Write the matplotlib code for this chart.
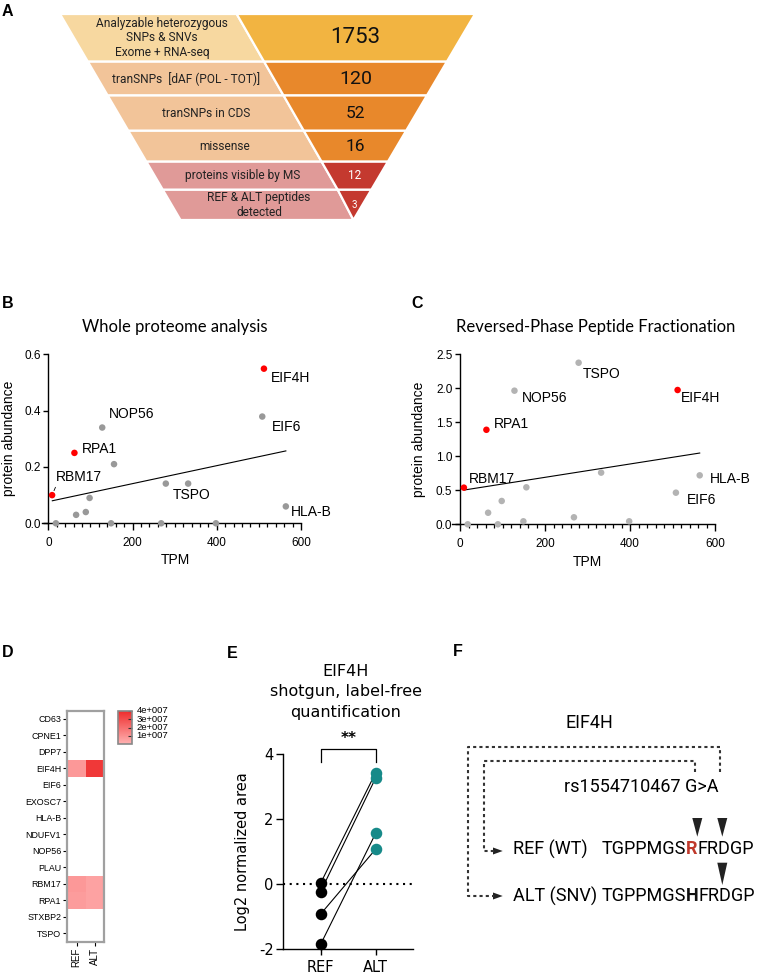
import numpy as np
import matplotlib
matplotlib.use("Agg")
import matplotlib.pyplot as plt
from matplotlib.patches import Polygon
from matplotlib.colors import LinearSegmentedColormap
from matplotlib.ticker import MultipleLocator, FuncFormatter

plt.rcParams["axes.unicode_minus"] = False

W, H = 768, 973

# ---------------- data ----------------
# Panel A funnel
funnel_labels = ["Analyzable heterozygous\nSNPs & SNVs\nExome + RNA-seq",
                 "tranSNPs  [dAF (POL - TOT)]",
                 "tranSNPs in CDS",
                 "missense",
                 "proteins visible by MS",
                 "REF & ALT peptides\ndetected"]
funnel_counts = [1753, 120, 52, 16, 12, 3]

# Panels B / C scatter
genes = ["RBM17", "", "RPA1", "", "", "", "NOP56", "", "", "", "TSPO", "", "", "EIF6", "EIF4H", "HLA-B"]
tpm = [9, 18, 62, 66, 89, 98, 128, 149, 156, 268, 279, 332, 398, 508, 512, 564]
highlight = [True, False, True, False, False, False, False, False, False, False, False, False, False, False, True, False]
abund_whole = [0.10, 0.0, 0.25, 0.03, 0.04, 0.09, 0.34, 0.0, 0.21, 0.0, 0.141, 0.141, 0.0, 0.379, 0.549, 0.06]
abund_rp = [0.539, 0.0, 1.39, 0.17, 0.0, 0.343, 1.965, 0.044, 0.544, 0.103, 2.376, 0.76, 0.044, 0.465, 1.975, 0.72]
trend_x = [9.5, 564]
trend_whole = [0.080, 0.257]
trend_rp = [0.504, 1.048]

# Panel D heatmap
hm_genes = ["CD63", "CPNE1", "DPP7", "EIF4H", "EIF6", "EXOSC7", "HLA-B", "NDUFV1",
            "NOP56", "PLAU", "RBM17", "RPA1", "STXBP2", "TSPO"]
hm_cols = ["REF", "ALT"]
nan = np.nan
hm_ref = [nan, nan, nan, 0.8e7, nan, nan, nan, nan, nan, nan, 0.8e7, 0.7e7, nan, nan]
hm_alt = [nan, nan, nan, 3.6e7, nan, nan, nan, nan, nan, nan, 0.5e7, 0.5e7, nan, nan]
cbar_ticks = [1e7, 2e7, 3e7, 4e7]

# Panel E paired
e_groups = ["REF", "ALT"]
e_ref = [0.03, -0.23, -0.92, -1.85]
e_alt = [3.43, 3.27, 1.08, 1.57]

# Panel F
f_ref_seq = ["TGPPMGS", "R", "FRDGP"]
f_alt_seq = ["TGPPMGS", "H", "FRDGP"]

# ---------------- figure ----------------
fig = plt.figure(figsize=(W / 100, H / 100), dpi=100)


def add_ax(x0, y0, x1, y1):
    return fig.add_axes([x0 / W, 1 - y1 / H, (x1 - x0) / W, (y1 - y0) / H])


ov = fig.add_axes([0, 0, 1, 1])
ov.set_xlim(0, W)
ov.set_ylim(H, 0)
ov.axis("off")

ARIAL = "Liberation Sans"
ROBOTO = "Roboto"

# panel letters
for lab, x, y in [("A", 2, 12), ("B", 2, 303), ("C", 411, 303), ("D", 2, 652.5), ("E", 227, 653), ("F", 453, 652)]:
    ov.text(x, y, lab, fontsize=11.5, fontweight="bold", family=ARIAL, ha="left", va="center")

# ---------------- Panel A ----------------
bounds = [14, 61.7, 95.5, 130.8, 161.7, 189.8, 220]
left_cols = ["#F7D8A0", "#F2C499", "#F2C499", "#F2C499", "#E09A98", "#E09A98"]
right_cols = ["#F2B441", "#E8882B", "#E8882B", "#E8882B", "#C4392F", "#C4392F"]
num_sizes = [16, 14, 12.5, 12.5, 8.5, 7]
num_cols = ["#111", "#111", "#111", "#111", "white", "white"]


def xl(y):
    return 60 + 0.585 * (y - 14)


def xd(y):
    return 236.7 + 0.575 * (y - 14)


def xr(y):
    return 475 - 0.59 * (y - 14)


for i in range(len(funnel_counts)):
    yt, yb = bounds[i], bounds[i + 1]
    dt, db = min(xd(yt), xr(yt)), min(xd(yb), xr(yb))
    ov.add_patch(Polygon([(xl(yt), yt), (dt, yt), (db, yb), (xl(yb), yb)], closed=True,
                         facecolor=left_cols[i], edgecolor="white", lw=1.6))
    ov.add_patch(Polygon([(dt, yt), (xr(yt), yt), (xr(yb), yb), (db, yb)], closed=True,
                         facecolor=right_cols[i], edgecolor="white", lw=1.6))
    ym = (yt + yb) / 2
    ov.text((xl(ym) + xd(ym)) / 2, ym, funnel_labels[i], ha="center", va="center",
            fontsize=8.6, family=ROBOTO, color="#222", linespacing=1.15)
    ov.text((xd(ym) + xr(ym)) / 2, ym, str(funnel_counts[i]), ha="center", va="center",
            fontsize=num_sizes[i], family=ROBOTO, color=num_cols[i])

# ---------------- Panels B / C ----------------


def scatter_panel(box, yvals, ymax, ystep, trend, title, title_fx, gray, offsets, xmin, yfmt):
    ax = add_ax(*box)
    ax.set_xlim(xmin, 600)
    ax.set_ylim(0, ymax)
    for s in ["top", "right"]:
        ax.spines[s].set_visible(False)
    ax.spines["left"].set_position(("data", 0))
    ax.spines["left"].set_linewidth(1.0)
    ax.spines["bottom"].set_linewidth(1.0)
    ax.xaxis.set_major_locator(MultipleLocator(200))
    ax.xaxis.set_minor_locator(MultipleLocator(20))
    ax.yaxis.set_major_locator(MultipleLocator(ystep))
    ax.yaxis.set_major_formatter(FuncFormatter(lambda v, p: yfmt.format(v)))
    ax.tick_params(axis="x", which="major", length=5, width=1, labelsize=8.5, pad=5)
    ax.tick_params(axis="x", which="minor", length=2.8, width=0.9)
    ax.tick_params(axis="y", which="major", length=3.5, width=1, labelsize=8.5, pad=2)
    for t in ax.get_xticklabels() + ax.get_yticklabels():
        t.set_family(ARIAL)
    cols = ["#FF0000" if h else gray for h in highlight]
    ax.scatter(tpm, yvals, s=22, c=cols, zorder=3, clip_on=False, linewidths=0)
    ax.plot(trend_x, trend, color="black", lw=0.8, zorder=2)
    for g, x, y in zip(genes, tpm, yvals):
        if g:
            dx, dy = offsets[g]
            kw = {}
            if g == "RBM17" and title.startswith("Whole"):
                kw = dict(arrowprops=dict(arrowstyle="-", lw=0.6, color="black",
                                          shrinkA=0, shrinkB=3.5, relpos=(0.03, 0.1)))
            ax.annotate(g, (x, y), xytext=(dx, dy), textcoords="offset points",
                        ha="left", va="center", fontsize=10, family=ARIAL, **kw)
    ax.set_xlabel("TPM", fontsize=10, family=ARIAL)
    ax.set_ylabel("protein abundance", fontsize=10, family=ARIAL)
    x0, y0, x1, y1 = box
    ax.xaxis.label.set_va("center")
    ax.yaxis.label.set_va("center")
    ax.xaxis.set_label_coords(title_fx[1], -(title_fx[3] - y1) / (y1 - y0))
    ax.yaxis.set_label_coords((title_fx[2] - x0) / (x1 - x0), 0.5)
    ax.text(title_fx[0], 1 + (y0 - 327) / (y1 - y0), title, transform=ax.transAxes,
            ha="center", va="center", fontsize=12, family="Lato")
    return ax


offB = {"EIF4H": (5.3, -6.7), "EIF6": (7, -7.2), "NOP56": (4.8, 9.4), "RPA1": (5.3, 2.7),
        "RBM17": (2.7, 12.7), "TSPO": (4.8, -8.1), "HLA-B": (3.6, -3.9)}
offC = {"TSPO": (2.9, -8.4), "NOP56": (5.5, -5.5), "EIF4H": (2.4, -6), "RPA1": (5.3, 3.9),
        "RBM17": (3.3, 6), "HLA-B": (7.2, -2.7), "EIF6": (7.7, -5.3)}

boxB = (42, 354.3, 301, 523.3)
scatter_panel(boxB, abund_whole, 0.6, 0.2, trend_whole, "Whole proteome analysis",
              ((175 - 42) / 259, (175 - 42) / 259, 9, 560), "#999999", offB, -15, "{:.1f}")
boxC = (452, 354.3, 715, 524.3)
scatter_panel(boxC, abund_rp, 2.5, 0.5, trend_rp, "Reversed-Phase Peptide Fractionation",
              ((596 - 452) / 263, (587 - 452) / 263, 419, 561.7), "#B3B3B3", offC, -19, "{:.1f}")

# ---------------- Panel D ----------------
cmap = LinearSegmentedColormap.from_list("pinkred", ["#FFB3B3", "#EE2B2B"])
axD = add_ax(67.3, 710.7, 104.3, 941.7)
mat = np.array([hm_ref, hm_alt]).T
im = axD.pcolormesh(np.ma.masked_invalid(mat), cmap=cmap, vmin=0, vmax=4e7)
axD.set_xlim(0, 2)
axD.set_ylim(len(hm_genes), 0)
axD.set_xticks(np.arange(2) + 0.5, hm_cols, rotation=90)
axD.set_yticks(np.arange(len(hm_genes)) + 0.5, hm_genes)
axD.tick_params(axis="y", length=3, width=0.8, labelsize=6.4, pad=1.5)
axD.tick_params(axis="x", length=3, width=0.8, labelsize=7, pad=1.5)
for t in axD.get_xticklabels() + axD.get_yticklabels():
    t.set_family(ARIAL)
for s in axD.spines.values():
    s.set_edgecolor("#A0A0A0")
    s.set_linewidth(1.6)

cax = add_ax(117.7, 710.7, 132.3, 744.3)
cb = fig.colorbar(im, cax=cax)
cb.set_ticks(cbar_ticks)
cb.ax.yaxis.set_major_formatter(FuncFormatter(lambda v, p: f"{int(round(v / 1e7))}e+007"))
cb.outline.set_edgecolor("#888888")
cb.outline.set_linewidth(1.2)
cax.tick_params(direction="in", length=3, width=0.8, color="#333", labelsize=6.8, pad=3)
for t in cax.get_yticklabels():
    t.set_family(ARIAL)
    t.set_va("center")

# ---------------- Panel E ----------------
boxE = (283.3, 754, 413, 949.3)
axE = add_ax(*boxE)
axE.set_xlim(-0.676, 1.675)
axE.set_ylim(-2, 4)
for s in ["top", "right"]:
    axE.spines[s].set_visible(False)
axE.spines["left"].set_linewidth(1.0)
axE.spines["bottom"].set_linewidth(1.0)
axE.set_yticks([-2, 0, 2, 4])
axE.set_xticks([0, 1], e_groups)
axE.tick_params(axis="y", length=5, width=1, labelsize=10.5, pad=2)
axE.tick_params(axis="x", length=4.5, width=1, labelsize=10.5, pad=3)
axE.axhline(0, color="black", lw=1.5, ls=(0, (1, 2.2)), zorder=1)
for r, a in zip(e_ref, e_alt):
    axE.plot([0, 1], [r, a], color="black", lw=0.8, zorder=2)
axE.plot([0] * len(e_ref), e_ref, "o", color="black", ms=7.3, zorder=3, clip_on=False)
axE.plot([1] * len(e_alt), e_alt, "o", color="#178A89", ms=7.3, zorder=3, clip_on=False)
axE.plot([0, 0, 1, 1], [3.755, 4.165, 4.165, 3.755], color="black", lw=0.9, clip_on=False)
axE.text(0.5, 4.47, "**", ha="center", va="center", fontsize=11, fontweight="bold")
axE.set_ylabel("Log2 normalized area", fontsize=10.5)
axE.yaxis.label.set_va("center")
axE.yaxis.set_label_coords((243 - 283.3) / 129.7, 0.5)
axE.text((346 - 283.3) / 129.7, (949.3 - 691.7) / 195.3, "EIF4H\nshotgun, label-free\nquantification",
         transform=axE.transAxes, ha="center", va="center", fontsize=11.5, linespacing=1.45)

# ---------------- Panel F ----------------
ov.text(589, 722.7, "EIF4H", ha="center", va="center", fontsize=13, family=ROBOTO)
dash = dict(color="#333333", lw=1.5, ls=(0, (1.5, 1.5)))
ov.plot([720, 720, 468.3, 468.3, 494], [771.7, 747.3, 747.3, 896, 896], **dash)
ov.plot([695, 695, 484.3, 484.3, 494], [771.7, 760.7, 760.7, 851, 851], **dash)
for yy in (851, 896):
    ov.add_patch(Polygon([(493, yy - 3.5), (502.7, yy), (493, yy + 3.5)], closed=True,
                         facecolor="#222", edgecolor="none"))
ov.text(564.3, 786.7, "rs1554710467 G>A", ha="left", va="center", fontsize=13, family=ROBOTO)
ov.text(512.7, 849.3, "REF (WT)", ha="left", va="center", fontsize=13, family=ROBOTO)
ov.text(512.7, 896, "ALT (SNV)", ha="left", va="center", fontsize=13, family=ROBOTO)


def seq_row(y, parts, mid_color):
    t1 = ov.text(601.7, y, parts[0], ha="left", va="center", fontsize=13, family=ROBOTO)
    t2 = ov.annotate(parts[1], xy=(1, 0.5), xycoords=t1, ha="left", va="center", fontsize=13,
                     family=ROBOTO, fontweight="bold", color=mid_color)
    ov.annotate(parts[2], xy=(1, 0.5), xycoords=t2, ha="left", va="center", fontsize=13,
                family=ROBOTO)


seq_row(849.3, f_ref_seq, "#C0392B")
seq_row(896, f_alt_seq, "#111111")
for cx, yt, yb in [(697.3, 818, 836.7), (722.3, 818, 836.7), (722.3, 862.7, 885)]:
    ov.add_patch(Polygon([(cx - 5, yt), (cx + 5, yt), (cx, yb)], closed=True,
                         facecolor="#222", edgecolor="none"))

fig.savefig("out.png", dpi=100)
